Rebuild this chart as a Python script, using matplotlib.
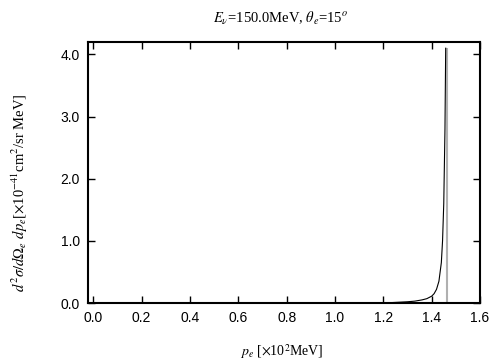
import numpy as np
import matplotlib
matplotlib.use("Agg")
import matplotlib.pyplot as plt

plt.rcParams['mathtext.fontset'] = 'stix'
plt.rcParams['font.family'] = ['Liberation Sans', 'DejaVu Sans']

# black curve: cross section vs electron momentum
p_e = [0.00, 0.60, 1.00, 1.20, 1.25, 1.30, 1.33, 1.36, 1.38, 1.40, 1.41,
       1.42, 1.43, 1.44, 1.445, 1.45, 1.455, 1.458]
xsec = [0.0, 0.0, 0.0, 0.0, 0.01, 0.02, 0.03, 0.05, 0.07, 0.11, 0.15,
        0.22, 0.35, 0.65, 1.0, 1.6, 2.8, 4.1]

# gray vertical line (edge)
edge_x = [1.462, 1.462]
edge_y = [0.0, 4.08]

x_ticks = np.arange(0, 1.61, 0.2)
y_ticks = np.arange(0, 4.1, 1.0)

fig = plt.figure(figsize=(5.04, 3.6), dpi=100)
ax = fig.add_axes([0.1746, 0.1583, 0.7778, 0.725])

ax.plot(edge_x, edge_y, color='#b0b0b0', lw=1.5)
ax.plot(p_e, xsec, color='black', lw=0.8)

ax.set_xlim(-0.022, 1.6)
ax.set_ylim(0, 4.2)
ax.set_xticks(x_ticks)
ax.set_yticks(y_ticks)
ax.set_xticklabels([f"{v:.1f}" for v in x_ticks])
ax.set_yticklabels([f"{v:.1f}" for v in y_ticks])
ax.tick_params(direction='in', top=True, right=True, length=5, width=1,
               labelsize=10, pad=6)
for s in ax.spines.values():
    s.set_linewidth(1.5)

fig.text(0.556, 0.95, r"$E_\nu$=150.0MeV, $\theta_e$=15$^o$",
         ha='center', va='center', family='Liberation Serif', fontsize=10.5)
fig.text(0.56, 0.022, r"$p_e$ [$\times$10$^2$MeV]",
         ha='center', va='center', family='Liberation Serif', fontsize=10)
fig.text(0.04, 0.464,
         r"$d^2\sigma/d\Omega_e\ dp_e$[$\times$10$^{-41}$cm$^2$/sr MeV]",
         ha='center', va='center', rotation=90, family='Liberation Serif',
         fontsize=10.5)

fig.savefig("out.png", dpi=100)
